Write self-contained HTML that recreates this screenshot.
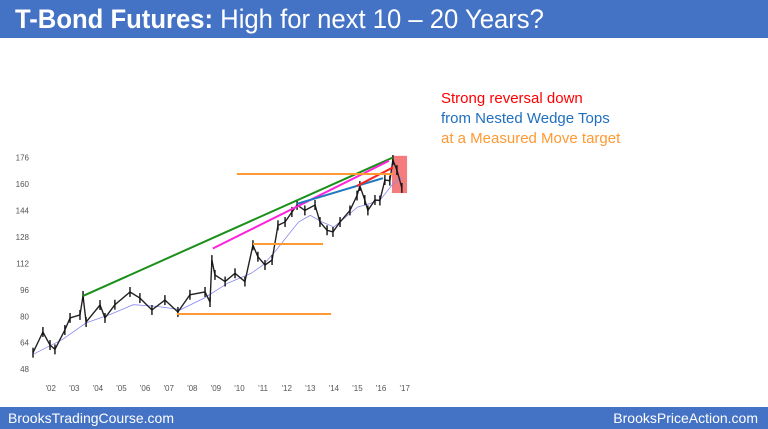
<!DOCTYPE html>
<html><head><meta charset="utf-8">
<style>
body{margin:0;width:768px;height:429px;overflow:hidden;background:#fff;font-family:"Liberation Sans",sans-serif;}
#title{position:absolute;left:0;top:0;width:768px;height:38px;background:#4472C4;color:#fff;font-size:27px;line-height:38px;}
#title span{position:absolute;left:15px;top:0;white-space:nowrap;transform:scaleX(0.95);transform-origin:0 0;}
#footer{position:absolute;left:0;top:407px;width:768px;height:22px;background:#4472C4;color:#fff;font-size:14px;line-height:22px;}
.note{position:absolute;left:441px;font-size:15px;white-space:nowrap;}
</style></head><body>
<div id="title"><span><b>T-Bond Futures:</b> High for next 10 – 20 Years?</span></div>
<div class="note" style="top:90px;color:#ff0000">Strong reversal down</div>
<div class="note" style="top:110px;color:#1f6fc0">from Nested Wedge Tops</div>
<div class="note" style="top:130px;color:#ff9933">at a Measured Move target</div>
<svg id="chart" width="768" height="429" style="position:absolute;left:0;top:0"></svg>
<div id="footer">
<span style="position:absolute;left:8px">BrooksTradingCourse.com</span>
<span style="position:absolute;right:10px">BrooksPriceAction.com</span>
</div>
<script>
const yTicks=[176,160,144,128,112,96,80,64,48];
const xYears=["'02","'03","'04","'05","'06","'07","'08","'09","'10","'11","'12","'13","'14","'15","'16","'17"];
const dates=[2001.25,2001.67,2001.97,2002.18,2002.6,2002.82,2003.24,2003.37,2003.5,2004.09,2004.3,2004.72,2005.36,2005.78,2006.29,2006.84,2007.39,2007.9,2008.54,2008.75,2008.83,2008.96,2009.39,2009.81,2010.23,2010.57,2010.78,2011.08,2011.38,2011.63,2011.93,2012.22,2012.44,2012.77,2013.2,2013.41,2013.71,2013.96,2014.26,2014.68,2014.98,2015.1,2015.31,2015.44,2015.74,2015.95,2016.16,2016.37,2016.5,2016.67,2016.88];
const prices=[58,70.5,62.6,60,71.7,79,80.8,92.3,76.5,86.8,79,87,94.7,91,83.8,89.8,82.6,93,94.7,88.6,114,105,101,106,101,123,116,111,114,135,137,143,147.3,144,147.3,137,132,131,137,144,153,158.8,150.3,144,150.3,150,162.4,162,174.5,168.4,157.6];
const maDates=[2001.25,2002.5,2003.5,2004.5,2005.5,2006.5,2007.5,2008.5,2009.5,2010.5,2011.0,2011.5,2012.0,2012.5,2013.0,2013.5,2014.0,2014.5,2015.0,2015.5,2016.0,2016.5,2016.9];
const maValues=[57,66,76,81,87,86,84,91,100,106,111,119,128,137,141,137,134,140,146,148,151,160,164];
const annotations=[
 {name:'green-trendline',c:'#1a8f1a',d:[2003.37,92.3,2016.5,176]},
 {name:'magenta-trendline',c:'#ff22dd',d:[2008.87,121,2016.33,174]},
 {name:'blue-trendline',c:'#1f78c0',d:[2012.44,148,2016.08,163.5]},
 {name:'red-trendline',c:'#ff2020',d:[2014.98,158.8,2016.5,170]},
 {name:'orange-target-line',c:'#ff9933',d:[2009.89,166,2016.5,166]},
 {name:'orange-mid-line',c:'#ff9933',d:[2010.57,123.7,2013.54,123.7]},
 {name:'orange-low-line',c:'#ff9933',d:[2007.35,81.4,2013.88,81.4]}];
const X=t=>50.7+(t-2002)*23.6;
const Y=v=>157.5+(176-v)*1.654;
const svg=document.getElementById('chart');const NS='http://www.w3.org/2000/svg';
function mk(tag,at){const e=document.createElementNS(NS,tag);for(const k in at)e.setAttribute(k,at[k]);svg.appendChild(e);return e;}
yTicks.forEach(v=>{const t=mk('text',{x:29,y:Y(v)+3,'text-anchor':'end','font-size':8,fill:'#555'});t.textContent=v;

});
xYears.forEach((s,i)=>{const t=mk('text',{x:X(2002+i),y:391,'text-anchor':'middle','font-size':8,fill:'#555'});t.textContent=s;

});
const r=mk('rect',{x:X(2016.46),y:Y(177),width:X(2017.1)-X(2016.46),height:Y(154.5)-Y(177),fill:'#f47c7c'});


const ma=mk('polyline',{points:maDates.map((d,i)=>X(d)+','+Y(maValues[i])).join(' '),fill:'none',stroke:'#8888ee','stroke-width':0.8});


const pl=mk('polyline',{points:dates.map((d,i)=>X(d)+','+Y(prices[i])).join(' '),fill:'none',stroke:'#222','stroke-width':1.4});


dates.forEach((d,i)=>{const b=mk('line',{x1:X(d),x2:X(d),y1:Y(prices[i]+3),y2:Y(prices[i]-3),stroke:'#111','stroke-width':1.4});

});
annotations.forEach(a=>{const l=mk('line',{x1:X(a.d[0]),y1:Y(a.d[1]),x2:X(a.d[2]),y2:Y(a.d[3]),stroke:a.c,'stroke-width':2});

});
</script>
</body></html>
